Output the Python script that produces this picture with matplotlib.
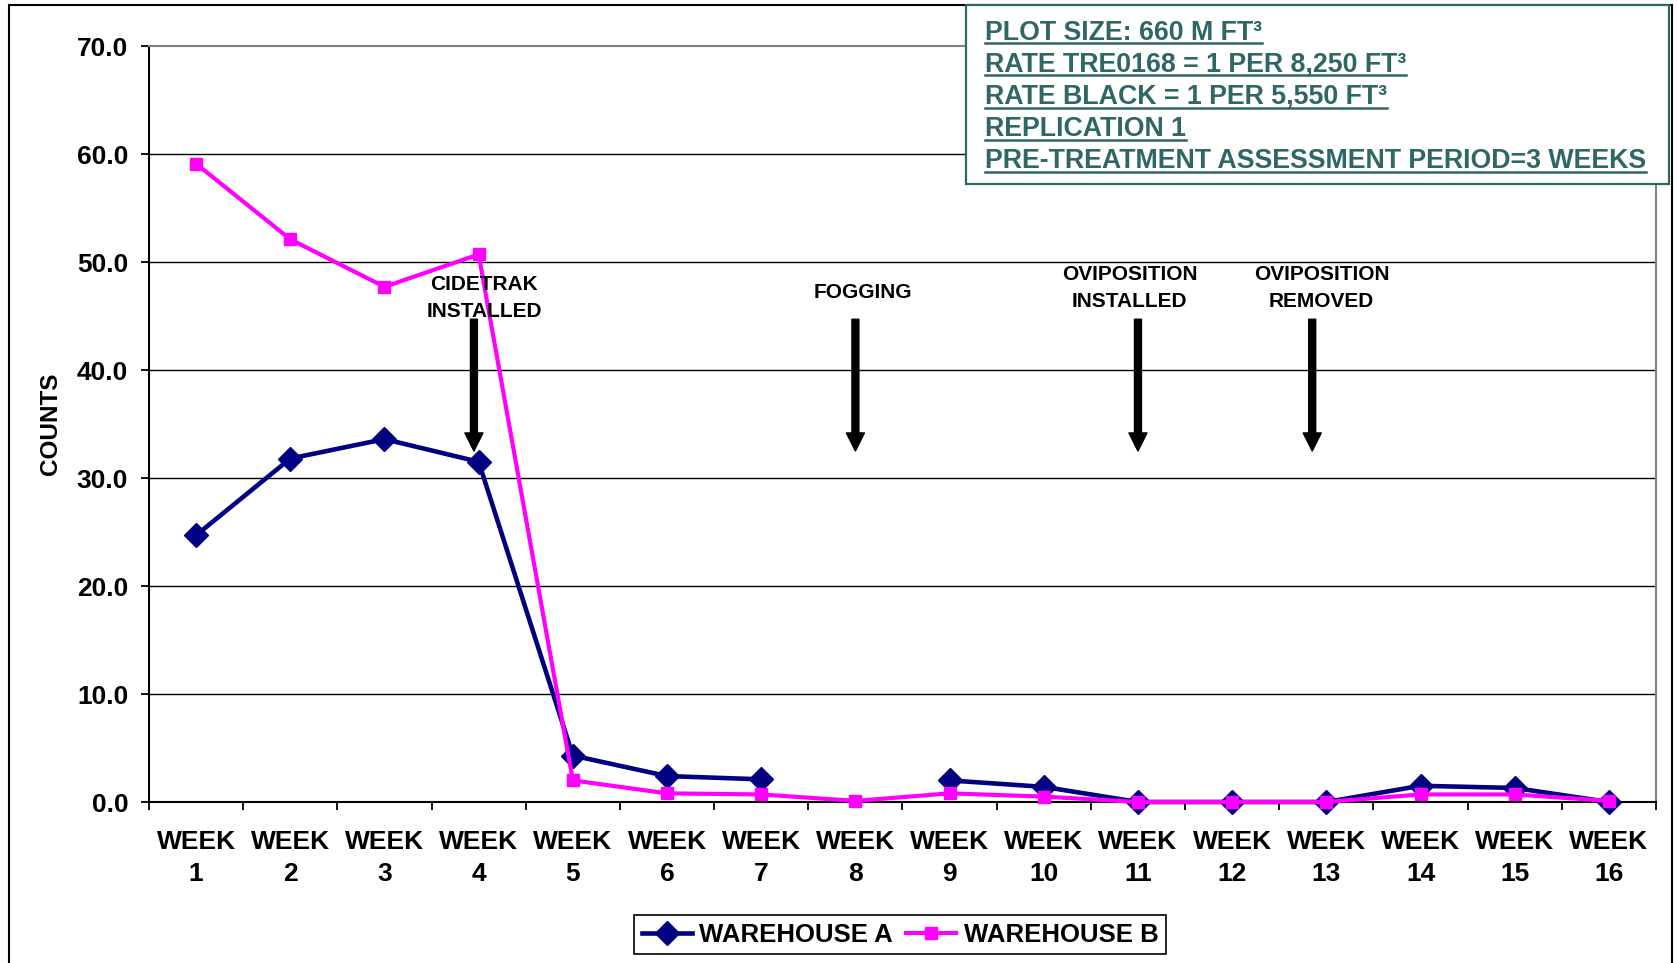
import numpy as np
import matplotlib
matplotlib.use("Agg")
import matplotlib.pyplot as plt
from matplotlib.lines import Line2D
from matplotlib.patches import Rectangle

# weekly counts per warehouse (week 8 not recorded for warehouse A)
WEEKS = [f"WEEK\n{i}" for i in range(1, 17)]
WAREHOUSE_A = [24.7, 31.8, 33.6, 31.5, 4.3, 2.4, 2.1, np.nan, 2.0, 1.4, 0.0, 0.0, 0.0, 1.5, 1.3, 0.0]
WAREHOUSE_B = [59.1, 52.1, 47.7, 50.7, 2.0, 0.8, 0.7, 0.1, 0.8, 0.5, 0.0, 0.0, 0.0, 0.7, 0.7, 0.1]
Y_TICKS = [0, 10, 20, 30, 40, 50, 60, 70]

# treatment events along the week axis
EVENT_LABELS = ["CIDETRAK\nINSTALLED", "FOGGING", "OVIPOSITION\nINSTALLED", "OVIPOSITION\nREMOVED"]
EVENT_ARROW_X = [2.95, 7.0, 10.0, 11.85]
EVENT_TEXT_X = [3.06, 7.08, 9.91, 11.95]
EVENT_TEXT_Y = [46.7, 47.2, 47.6, 47.6]
ARROW_TOP, ARROW_TIP = 44.7, 32.5

NOTES = [
    "PLOT SIZE: 660 M FT\u00b3",
    "RATE TRE0168 = 1 PER 8,250 FT\u00b3",
    "RATE BLACK = 1 PER 5,550 FT\u00b3",
    "REPLICATION 1",
    "PRE-TREATMENT ASSESSMENT PERIOD=3 WEEKS",
]

NAVY = "#000080"
MAGENTA = "#FF00FF"
TEAL = "#2F6666"

plt.rcParams["font.family"] = ["Liberation Sans", "DejaVu Sans"]
plt.rcParams["font.weight"] = "bold"

W, H = 1677, 963
fig = plt.figure(figsize=(W / 100, H / 100), dpi=100)
fig.patch.set_facecolor("white")

# outer frame of the sheet
fig.add_artist(Rectangle((9 / W, -0.05), (1672 - 9) / W, 1 - 5 / H + 0.05,
                         transform=fig.transFigure, fill=False, ec="black", lw=1.5, zorder=0))

ax = fig.add_axes([149 / W, 1 - 802 / H, 1507 / W, 756 / H])
x = np.arange(len(WEEKS))

for yv in Y_TICKS[1:-1]:
    ax.axhline(yv, color="black", lw=1.0, zorder=0.5)

ax.plot(x, WAREHOUSE_A, color=NAVY, lw=3.3, marker="D", ms=12, mec=NAVY, mfc=NAVY,
        label="WAREHOUSE A", zorder=3, clip_on=False)
ax.plot(x, WAREHOUSE_B, color=MAGENTA, lw=3.0, marker="s", ms=9, mec=MAGENTA, mfc=MAGENTA,
        label="WAREHOUSE B", zorder=4, clip_on=False)

for lbl, ax_x, tx, ty in zip(EVENT_LABELS, EVENT_ARROW_X, EVENT_TEXT_X, EVENT_TEXT_Y):
    ax.annotate("", xy=(ax_x, ARROW_TIP), xytext=(ax_x, ARROW_TOP),
                arrowprops=dict(facecolor="black", edgecolor="black", width=5,
                                headwidth=13, headlength=13, shrink=0), zorder=5)
    ax.text(tx, ty, lbl, ha="center", va="center", fontsize=15, fontweight="bold",
            linespacing=1.55, zorder=5)

ax.set_xlim(-0.5, len(WEEKS) - 0.5)
ax.set_ylim(0, 70)
ax.set_yticks(Y_TICKS)
ax.set_yticklabels([f"{v:.1f}" for v in Y_TICKS])
ax.set_xticks(x)
ax.set_xticklabels(WEEKS, linespacing=1.45)
ax.set_xticks(np.arange(-0.5, len(WEEKS)), minor=True)
ax.tick_params(axis="x", which="major", length=0, pad=20, labelsize=19)
ax.tick_params(axis="x", which="minor", length=6, width=1.3, direction="out")
ax.tick_params(axis="y", length=6, width=1.3, direction="out", pad=9, labelsize=19)

for side in ("left", "bottom"):
    ax.spines[side].set_color("black")
    ax.spines[side].set_linewidth(1.5)
for side in ("top", "right"):
    ax.spines[side].set_color("#808080")
    ax.spines[side].set_linewidth(1.5)

fig.text(50 / W, 1 - 424 / H, "COUNTS", rotation=90, ha="center", va="center",
         fontsize=17.5, fontweight="bold")

leg = fig.legend(loc="center", bbox_to_anchor=(900 / W, 1 - 934.5 / H), ncol=2,
                 fontsize=18.5, frameon=True, fancybox=False, framealpha=1,
                 edgecolor="black", handlelength=1.95, handletextpad=0.3,
                 columnspacing=0.5, borderpad=0.3, borderaxespad=0, numpoints=1)
leg.get_frame().set_linewidth(1.2)

# notes box in the upper right corner
fig.add_artist(Rectangle((966 / W, 1 - 184 / H), (1669 - 966) / W, 179 / H,
                         transform=fig.transFigure, fc="white", ec=TEAL, lw=1.6, zorder=6))
baselines = [39.5, 71.7, 104, 136, 168.3]
note_texts = []
for txt, b in zip(NOTES, baselines):
    t = fig.text(985 / W, 1 - b / H, txt, ha="left", va="baseline", fontsize=19.3,
                 fontweight="bold", color=TEAL, zorder=7)
    note_texts.append((t, b))

fig.canvas.draw()
renderer = fig.canvas.get_renderer()
for t, b in note_texts:
    bb = t.get_window_extent(renderer=renderer)
    uy = 1 - (b + 3.8) / H
    fig.add_artist(Line2D([bb.x0 / W, bb.x1 / W], [uy, uy], transform=fig.transFigure,
                          color=TEAL, lw=1.8, zorder=7))

fig.savefig("out.png", dpi=100)
